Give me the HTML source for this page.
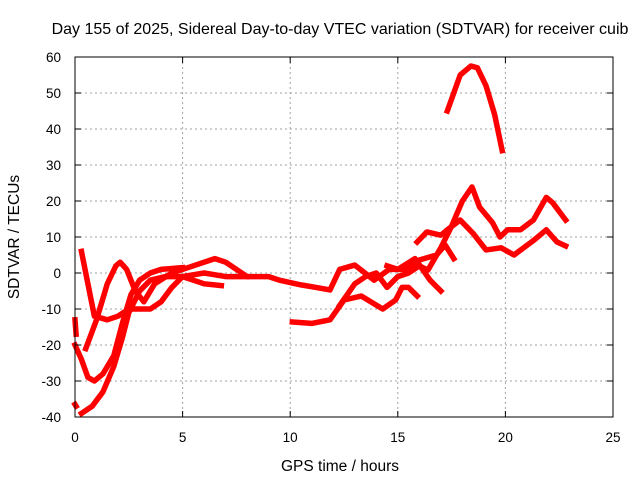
<!DOCTYPE html>
<html><head><meta charset="utf-8"><style>
body{margin:0;background:#fff}
svg{display:block;font-family:"Liberation Sans",sans-serif}
</style></head><body>
<svg id="chart" width="640" height="480">
<text x="340" y="34" font-size="16" text-anchor="middle">Day 155 of 2025, Sidereal Day-to-day VTEC variation (SDTVAR) for receiver cuib</text>
<text x="340" y="471" font-size="15.5" text-anchor="middle">GPS time / hours</text>
<text transform="translate(19,237) rotate(-90)" font-size="15.5" text-anchor="middle">SDTVAR / TECUs</text>
<g id="grid"></g><g id="series"></g><g id="axes"></g>
</svg>
<script>
const xTicks=[0,5,10,15,20,25];
const yTicks=[-40,-30,-20,-10,0,10,20,30,40,50,60];
const s1=[[0.3,6],[0.6,-3],[0.9,-12],[1.5,-13],[2,-12],[2.5,-10],[3,-10],[3.5,-10],[4,-8],[4.5,-4],[5,-1],[5.5,-2],[6,-3],[6.8,-3.5]];
const s2=[[0,-20],[0.3,-24],[0.6,-29],[0.9,-30],[1.3,-28],[1.8,-23],[2.2,-14],[2.6,-6],[3,-2],[3.5,0],[4,1],[5,1.5]];
const s3=[[0.3,-39],[0.8,-37],[1.3,-33],[1.8,-26],[2.2,-18],[2.5,-11],[3,-5],[3.5,-2],[4.2,-1],[5,-1],[6,0],[7,-1],[8,-1]];
const s4=[[0.5,-21],[1,-13],[1.5,-3],[1.9,2],[2.1,3],[2.4,1],[2.8,-5],[3.2,-8],[3.7,-3],[4.5,0],[5.5,2],[6.5,4],[7,3],[7.5,1],[8,-1],[9,-1],[9.5,-2],[10.5,-3.3],[11.2,-4],[11.85,-4.7],[12.3,1],[13,2.2],[13.9,-2],[14.6,1],[15.3,1],[16,3.6],[16.8,5],[17.2,7.8],[17.6,4]];
const s5=[[10.1,-13.6],[11,-14],[11.85,-13],[12.5,-7.5],[13.3,-6.4],[14.3,-10],[14.9,-7.5],[15.2,-4],[15.5,-4],[15.9,-6.4]];
const s6=[[12.3,-9],[13,-3],[13.5,-1],[14,0],[14.5,-4],[15,-1],[15.5,0],[16,2],[16.4,0.8],[17,7],[17.5,13],[18,20],[18.45,23.9],[18.8,18.3],[19.4,14],[19.75,10],[20.1,12],[20.7,12],[21.3,14.7],[21.9,21],[22.2,19.5],[22.8,14.7]];
const s7=[[15.9,8.6],[16.35,11.4],[17,10.5],[17.3,12],[17.9,14.7],[18.5,11],[19.1,6.4],[19.8,7],[20.4,5],[21.3,9],[21.9,12],[22.4,8.6],[22.8,7.5]];
const s8=[[14.5,2],[15,1],[15.8,4],[16.5,-2],[17,-5]];
const s9=[[17.3,45],[17.9,55],[18.4,57.5],[18.7,57],[19.1,52],[19.5,44],[19.85,34]];
const s10=[[0,-13],[0.05,-17]];
const s11=[[0,-36.5],[0.05,-37]];
const seriesList=[s1,s2,s3,s4,s5,s6,s7,s8,s9,s10,s11];
const X=h=>75+h*21.52, Y=v=>57+(60-v)*3.6;
const NS="http://www.w3.org/2000/svg";
const grid=document.getElementById('grid'),axes=document.getElementById('axes'),ser=document.getElementById('series');
function mk(tag,at,p){const e=document.createElementNS(NS,tag);for(const k in at)e.setAttribute(k,at[k]);p.appendChild(e);return e;}
xTicks.forEach(t=>{
 if(t>0&&t<25){const l=mk('line',{x1:X(t),x2:X(t),y1:57,y2:417,stroke:'#a0a0a0','stroke-dasharray':'2,3'},grid);
 
 }
 const tx=mk('text',{x:X(t),y:442,'font-size':13.5,'text-anchor':'middle'},axes);tx.textContent=t;
 
 
 mk('line',{x1:X(t),x2:X(t),y1:417,y2:411,stroke:'#000'},axes);mk('line',{x1:X(t),x2:X(t),y1:57,y2:63,stroke:'#000'},axes);
});
yTicks.forEach(t=>{
 if(t>-40&&t<60){const l=mk('line',{x1:75,x2:613,y1:Y(t),y2:Y(t),stroke:'#a0a0a0','stroke-dasharray':'2,3'},grid);
 
 }
 const tx=mk('text',{x:61,y:Y(t)+5,'font-size':13.5,'text-anchor':'end'},axes);tx.textContent=t;
 
 
 mk('line',{x1:75,x2:81,y1:Y(t),y2:Y(t),stroke:'#000'},axes);mk('line',{x1:613,x2:607,y1:Y(t),y2:Y(t),stroke:'#000'},axes);
});
const fr=mk('rect',{x:75,y:57,width:538,height:360,fill:'none',stroke:'#000'},axes);


seriesList.forEach(s=>{
 const p=mk('polyline',{points:s.map(d=>X(d[0])+','+Y(d[1])).join(' '),fill:'none',stroke:'#ff0000','stroke-width':5.5,'stroke-linejoin':'round','stroke-linecap':'square'},ser);
 
 
});
</script>
</body></html>
